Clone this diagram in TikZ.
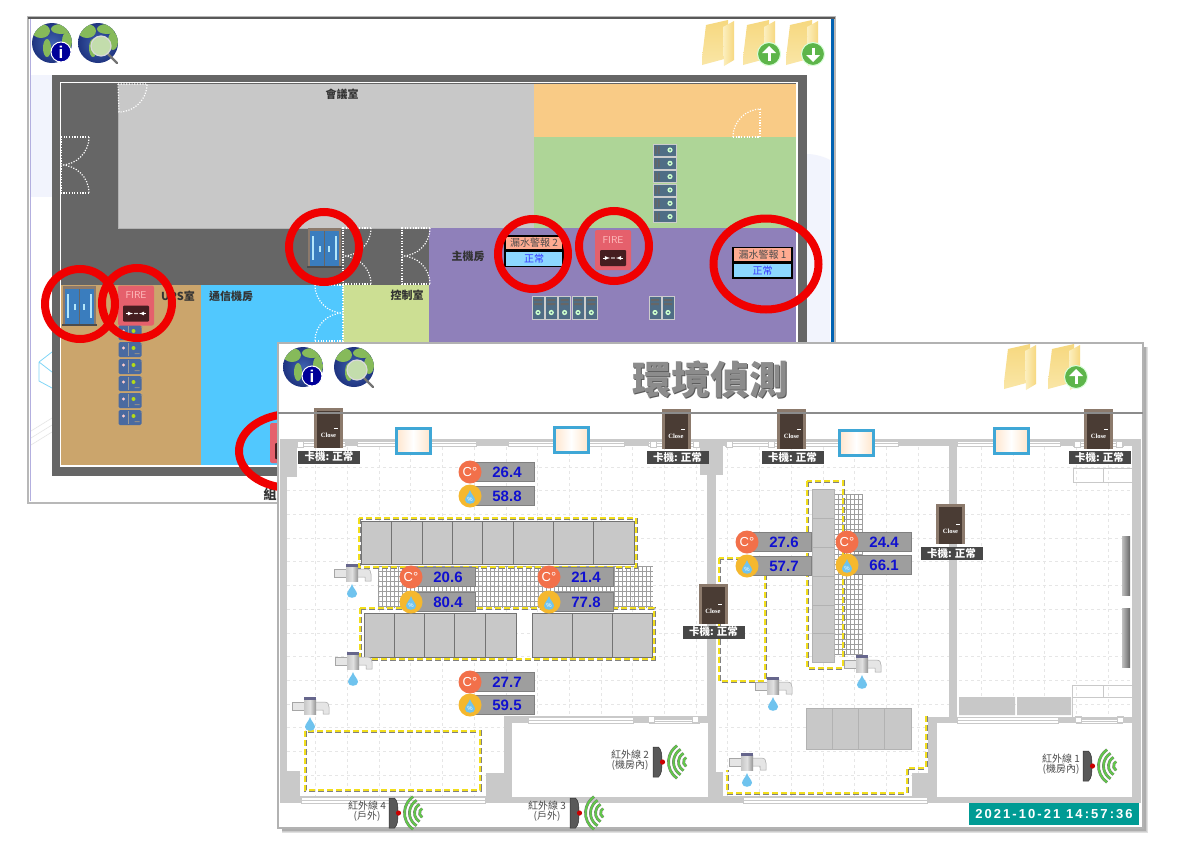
\documentclass[tikz,border=0pt]{standalone}
\usepackage{fontspec}
\usepackage{xcolor}
\usetikzlibrary{arrows,calc}
\setmainfont{Liberation Sans}
\newfontfamily\cjk{Noto Sans CJK TC}
\newfontfamily\stampfont[LetterSpace=16]{Liberation Sans}
\newfontfamily\closefont{Liberation Serif}
\newcommand{\fsz}[1]{\fontsize{#1}{#1}\selectfont}

\definecolor{plangray}{HTML}{666666}
\definecolor{roomgray}{HTML}{C8C8C8}
\definecolor{roomorange}{HTML}{F9CB86}
\definecolor{roomgreen}{HTML}{AED597}
\definecolor{roompurple}{HTML}{8F80BA}
\definecolor{roomlime}{HTML}{CCDF93}
\definecolor{roomblue}{HTML}{51C8FE}
\definecolor{roomtan}{HTML}{CBA56C}
\definecolor{markred}{HTML}{F00000}
\definecolor{rackblue}{HTML}{4F6D85}
\definecolor{upsblue}{HTML}{4A6AA0}
\definecolor{firered}{HTML}{E5606C}
\definecolor{doorblue}{HTML}{3A7DBE}
\definecolor{doorbrown}{HTML}{4A3C34}
\definecolor{doorframe}{HTML}{8C7A6C}
\definecolor{wallgray}{HTML}{C9C9C9}
\definecolor{gridgray}{HTML}{E6E6E6}
\definecolor{zoneyellow}{HTML}{F2DE1C}
\definecolor{valueblue}{HTML}{1010D0}
\definecolor{dropblue}{HTML}{6FC3EE}
\definecolor{teal}{HTML}{009B94}
\definecolor{wavegreen}{HTML}{62C74A}
\definecolor{folderdark}{HTML}{F6D87F}
\definecolor{folderlight}{HTML}{FCEFC0}
\definecolor{badgegreen}{HTML}{5DB54A}
\definecolor{fadeblue}{HTML}{F2F4FD}
\definecolor{landgreen}{HTML}{86BA5A}
\definecolor{seablue}{HTML}{3F62B0}
\definecolor{seadark}{HTML}{1F3480}
\definecolor{leaksalmon}{HTML}{FFAB91}
\definecolor{leaksky}{HTML}{8CD7FF}
\definecolor{panelblue}{HTML}{3FA7D6}
\definecolor{tempred}{HTML}{F2704A}
\definecolor{humyellow}{HTML}{F5B82E}

\tikzset{
	>=latex,
	planlabel/.style={font=\cjk\bfseries\fsz{11},text=black!80,inner sep=0pt},
	doorarc/.style={white,dash pattern=on 1.2pt off 1.5pt,line width=1.2pt},
	markring/.style={draw=markred,line width=8pt},
	cardlabel/.style={fill=black!72,text=white,font=\cjk\bfseries\fsz{10.5},minimum width=62pt,minimum height=13pt,inner sep=0pt},
	irlabel/.style={font=\cjk\fsz{10},text=black!70,align=center,inner sep=0pt},
	leaktop/.style={fill=leaksalmon,draw=black,line width=1.4pt,font=\cjk\fsz{10},text=black!70,minimum width=58pt,minimum height=14pt,inner sep=0pt},
	leakstate/.style={fill=leaksky,draw=black,line width=1.4pt,font=\cjk\fsz{10},text=blue!80,minimum width=58pt,minimum height=15pt,inner sep=0pt},
	rackbox/.style={fill=roomgray,draw=black!55,line width=.5pt},
	flatbox/.style={fill=roomgray,draw=black!30,line width=.5pt},
	wall/.style={fill=wallgray,draw=none},
	strip/.style={fill=white,draw=wallgray,line width=.6pt},
	yellowzone/.style={draw=zoneyellow,line width=2.2pt,dash pattern=on 6pt off 3pt,
			preaction={draw=black!50,line width=3pt,dash pattern=on 6pt off 3pt}},
	pics/earth/.style={code={
				\shade[inner color=seablue,outer color=seadark] (0,0) circle (20);
				\begin{scope}
					\clip (0,0) circle (20);
					\fill[landgreen] (-11,-12) ellipse (9 and 7);
					\fill[landgreen] (9,-14) ellipse (10 and 5);
					\fill[landgreen] (-5,5) ellipse (4 and 9);
					\fill[landgreen] (15,-2) ellipse (5 and 9);
				\end{scope}
			}},
	pics/earthinfo/.style={code={
				\pic {earth};
				\filldraw[fill=blue!60!black,draw=white,line width=1pt] (9,9) circle (10);
				\node[text=white,font=\bfseries\fsz{17},inner sep=0pt] (-i) at (9,9) {i};
			}},
	pics/earthsearch/.style={code={
				\pic {earth};
				\draw[black!55,line width=2.4pt,line cap=round] (10,11) -- (19,20);
				\filldraw[fill=landgreen!50!white,draw=white!85!black,line width=1.2pt] (3,3) circle (10);
			}},
	pics/folder/.style={code={
				\shade[top color=folderdark,bottom color=folderlight!60!folderdark] (4,5) -- (26,0) -- (26,38) -- (0,45) -- (0,38) -- cycle;
				\shade[left color=folderlight,right color=folderdark] (21,7) -- (32,1) -- (32,40) -- (22,46) -- cycle;
			}},
	pics/updownbadge/.style={code={
				\filldraw[fill=badgegreen,draw=white!85!green,line width=1pt] (0,0) circle (11.5);
				\draw[white,line width=3pt] (0,#1*6.5) -- (0,-#1*2);
				\fill[white] (0,-#1*8) -- (7,-#1*1) -- (-7,-#1*1) -- cycle;
			}},
	pics/rackflat/.style={code={
				\filldraw[fill=rackblue,draw=black!20,line width=.4pt] (0,0) rectangle (23,12);
				\fill[black!60] (2,2) rectangle (3.5,10) (5,2) rectangle (6.5,10);
				\fill[green!20!white] (17,6) circle (2.6);
				\fill[rackblue] (17,6) circle (1);
			}},
	pics/racktall/.style={code={
				\filldraw[fill=rackblue,draw=black!20,line width=.4pt] (0,0) rectangle (12,23);
				\fill[black!60] (2,3) rectangle (10,5) (2,7) rectangle (10,9);
				\fill[green!20!white] (6,16.5) circle (2.6);
				\fill[rackblue] (6,16.5) circle (1);
			}},
	pics/upsbox/.style={code={
				\fill[upsblue,rounded corners=1.5pt] (0,0) rectangle (23,15);
				\draw[black!40,line width=.4pt] (10,1) -- (10,14);
				\fill[pink!80!white] (5,6) circle (1.6);
				\fill[yellow!70!green] (15,6) circle (2);
				\fill[black!45] (16,11) rectangle (21,12) (23,2) circle (1);
			}},
	pics/firebox/.style={code={
				\fill[firered,rounded corners=2pt] (0,0) rectangle (36,40);
				\node[text=red!25!white,font=\fsz{10}\sffamily,inner sep=0pt] (-t) at (18,10) {FIRE};
				\fill[black!70!firered,rounded corners=1pt] (5,20) rectangle (31,36);
				\draw[white,->,line width=.8pt] (8,28) -- (15,28);
				\draw[white,->,line width=.8pt] (28,28) -- (21,28);
				\fill[white] (17,28) circle (.8) (19,28) circle (.8);
			}},
	pics/bluedoor/.style={code={
				\fill[doorframe] (1,0) rectangle (34,38);
				\fill[doorblue] (3,3) rectangle (32,38);
				\draw[black!60,line width=.8pt] (17.5,3) -- (17.5,38);
				\draw[black!70,line width=1.2pt] (0,39) -- (35,39);
				\draw[cyan!30!white,line width=1.2pt] (6,8) -- (6,32) (29,8) -- (29,32);
				\draw[cyan!30!white,line width=1.5pt] (13,18) -- (13,24) (22,18) -- (22,24);
			}},
	pics/carddoor/.style={code={
				\fill[doorframe] (-14.5,0) rectangle (14.5,40);
				\fill[doorbrown] (-11.5,3) rectangle (11.5,40);
				\fill[white] (5,20) rectangle (9,21);
				\node[text=white,font=\closefont\bfseries\fsz{6.5},inner sep=0pt] (-c) at (0,27) {Close};
			}},
	pics/glasspane/.style={code={
				\shade[left color=orange!20!white,right color=orange!20!white,middle color=white] (0,0) rectangle (34,25);
				\draw[panelblue,line width=3pt] (0,0) rectangle (34,25);
			}},
	pics/drop/.style={code={
				\fill[dropblue] (0,-7) .. controls (1,-3) and (5,0) .. (5,3) .. controls (5,8) and (-5,8) .. (-5,3) .. controls (-5,0) and (-1,-3) .. (0,-7);
			}},
	pics/faucet/.style={code={
				\filldraw[fill=black!10,draw=black!35,line width=.5pt] (-18,-3) rectangle (-5,5);
				\filldraw[fill=black!10,draw=black!35,line width=.5pt] (5,-3) -- (14,-3) .. controls (18,-3) and (19,-1) .. (19,2) -- (19,9) -- (13,9) -- (13,5) -- (5,5) -- cycle;
				\shade[left color=black!22,right color=black!42,middle color=black!12] (-6,-6) rectangle (6,9);
				\fill[blue!25!black!60] (-6,-8) rectangle (6,-5);
				\pic at (0,19) {drop};
			}},
	pics/tempgauge/.style={code={
				\filldraw[fill=black!38,draw=black!50,line width=.8pt] (0,-9.5) rectangle (64,9.5);
				\fill[tempred] (0,0) circle (11.5);
				\node[text=valueblue,font=\bfseries\fsz{15},inner sep=0pt] (-v) at (37,0) {#1};
				\node[text=white,font=\fsz{13},inner sep=0pt] (-u) at (0,0) {C°};
			}},
	pics/humgauge/.style={code={
				\filldraw[fill=black!38,draw=black!50,line width=.8pt] (0,-9.5) rectangle (64,9.5);
				\fill[humyellow] (0,0) circle (11.5);
				\pic at (0,1) {drop};
				\node[text=valueblue,font=\bfseries\fsz{15},inner sep=0pt] (-v) at (37,0) {#1};
				\node[text=white,font=\fsz{6},inner sep=0pt] (-u) at (0,3) {\%};
			}},
	pics/irsensor/.style={code={
				\filldraw[fill=black!65,draw=black!80,line width=.5pt] (-4.5,-15) -- (1,-15) .. controls (4,-12) and (4.5,-8) .. (4.5,0) .. controls (4.5,8) and (4,12) .. (1,15) -- (-4.5,15) -- cycle;
				\fill[red!80!black] (5,0) circle (2.6);
				\foreach \rad/\ang in {20/55,15/58,10/60,5/62}{
						\draw[black!55,line width=2.8pt] ($(31,0)+(180-\ang:\rad)$) arc[start angle=180-\ang,end angle=180+\ang,radius=\rad];
						\draw[wavegreen,line width=2pt] ($(31,0)+(180-\ang:\rad)$) arc[start angle=180-\ang,end angle=180+\ang,radius=\rad];
					}
			}}
}

\begin{document}
\begin{tikzpicture}[x=1pt,y=-1pt,font=\small]
	\useasboundingbox (0,0) rectangle (1203,849);
	\fill[white] (0,0) rectangle (1203,849);

	% Back window
	\filldraw[fill=white,draw=black!28,line width=2pt] (28,17) rectangle (835,503);
	\draw[black!65,line width=1.5pt] (28,18) -- (835,18);
	\draw[cyan!15!blue!30,line width=.8pt] (30,19) -- (30,501);
	\draw[blue!45!cyan!70!black,line width=3pt] (832,19) -- (832,343);
	\fill[fadeblue] (31,75) rectangle (52,197);
	\fill[fadeblue] (807,154) .. controls (815,154) and (825,157) .. (830,160) -- (830,343) -- (807,343) -- cycle;
	\draw[cyan!50,line width=.8pt] (39,362) -- (52,352) (39,362) -- (52,372) (39,362) -- (39,381) -- (52,388);
	\draw[black!10,line width=.6pt] (31,438) -- (52,425) (31,445) -- (52,432) (31,431) -- (52,418);
	\pic (backInfo) at (52,43) {earthinfo};
	\pic (backSearch) at (98,43) {earthsearch};
	\pic (backFolderA) at (702,20) {folder};
	\pic (backFolderB) at (743,20) {folder};
	\pic (backFolderC) at (786,20) {folder};
	\pic (backUp) at (769,54) {updownbadge=1};
	\pic (backDown) at (813,54) {updownbadge=-1};

	% Floor plan and rooms
	\fill[plangray] (52,75) rectangle (807,476);
	\draw[white,line width=1.2pt] (60.5,82.5) rectangle (797,466);
	\fill[roomgray] (118,84) rectangle (534,228);
	\fill[roomorange] (534,84) rectangle (796,137);
	\fill[roomgreen] (534,137) rectangle (796,228);
	\fill[roompurple] (429,228) rectangle (796,465);
	\fill[roomlime] (343,284.5) rectangle (429,465);
	\fill[roomblue] (201,284.5) rectangle (343,465);
	\fill[roomtan] (61,284.5) rectangle (201,465);
	\draw[white!50!plangray,line width=.6pt] (118,84) -- (118,228) -- (429,228);

	% Door swings
	\draw[doorarc] (118,84) -- (147,84) arc[start angle=0,end angle=90,radius=28] -- cycle;
	\foreach \xd in {61,343,402}{
			\pgfmathsetmacro{\ytop}{\xd==61?137:228}
			\draw[doorarc] (\xd+28,\ytop) -- (\xd,\ytop) -- (\xd,\ytop+56) -- (\xd+28,\ytop+56);
			\draw[doorarc] (\xd+28,\ytop) arc[start angle=0,end angle=90,radius=28] arc[start angle=-90,end angle=0,radius=28];
		}
	\draw[doorarc] (315,285) -- (343,285) -- (343,341) -- (315,341);
	\draw[doorarc] (315,285) arc[start angle=180,end angle=90,radius=28] arc[start angle=-90,end angle=-180,radius=28];
	\draw[doorarc] (733,137) -- (760,137) -- (760,109);
	\draw[doorarc] (733,137) arc[start angle=180,end angle=270,radius=28];

	% Room names
	\node[planlabel] (meetRoom) at (342,94) {會議室};
	\node[planlabel] (controlRoom) at (407,295) {控制室};
	\node[planlabel] (commRoom) at (231,296) {通信機房};
	\node[planlabel] (upsRoom) at (178,296) {UPS室};
	\node[planlabel] (mainRoom) at (468,256) {主機房};
	\node[planlabel,font=\cjk\bfseries\fsz{13}] (lowerRoom) at (270,494) {組};

	% Equipment in the plan
	\foreach \yr in {144,157.3,170.6,184,197.3,210.6}{
			\pic at (653,\yr) {rackflat};
		}
	\foreach \xr in {532,545.3,558.6,572,585.3,649,662}{
			\pic at (\xr,296) {racktall};
		}
	\foreach \yr in {325,342,359,376,393,410}{
			\pic at (118.5,\yr) {upsbox};
		}
	\pic (doorMid) at (307,228) {bluedoor};
	\pic (doorLeft) at (62,286) {bluedoor};
	\pic (fireLeft) at (118,285.5) {firebox};
	\pic (fireRight) at (595,230) {firebox};
	\pic (fireLow) at (270,423) {firebox};
	\node[leaktop] (leakTwoName) at (534,243) {漏水警報 2};
	\node[leakstate,below=0pt] (leakTwoState) at (leakTwoName.south) {正常};
	\node[leaktop,minimum width=59pt] (leakOneName) at (762.5,254.5) {漏水警報 1};
	\node[leakstate,minimum width=59pt,below=0pt] (leakOneState) at (leakOneName.south) {正常};

	% Red rings
	\foreach \xm/\ym in {324/247,80/304,137/303,533/254,614/246}{
			\draw[markring] (\xm,\ym) circle (35);
		}
	\draw[markring] (766,264) ellipse (52.5 and 45.5);
	\draw[markring] (291,451) ellipse (52 and 37);

	% Front window
	\foreach \sd/\sh in {5/12,4/20,3/32}{
			\fill[black!\sh] (282,347) rectangle (1143+\sd,828+\sd);
		}
	\filldraw[fill=white,draw=black!30,line width=2pt] (278,343) rectangle (1143,828);

	% Floor grid
	\foreach \k in {0,...,25}{
			\draw[gridgray,dashed,line width=.8pt] (315.7+31.7*\k,447) -- (315.7+31.7*\k,797);
		}
	\foreach \k in {0,...,14}{
			\draw[gridgray,dashed,line width=.8pt] (287,467+23.7*\k) -- (1132,467+23.7*\k);
		}

	% Walls
	\fill[wall] (280,439) rectangle (1141,446);
	\fill[wall] (280,439) rectangle (297,477);
	\fill[wall] (280,439) rectangle (287,803);
	\fill[wall] (280,771) rectangle (300,803);
	\fill[wall] (280,796) rectangle (1141,803);
	\fill[wall] (486,773) rectangle (512,803);
	\fill[wall] (504,716) rectangle (716,723);
	\fill[wall] (504,716) rectangle (512,773);
	\fill[wall] (707,439) rectangle (716,803);
	\fill[wall] (700,439) rectangle (723,475);
	\fill[wall] (707,772) rectangle (723,803);
	\fill[wall] (949,441) rectangle (957,717);
	\fill[wall] (928,717) rectangle (1141,723);
	\fill[wall] (928,717) rectangle (937,773);
	\fill[wall] (912,773) rectangle (937,803);
	\fill[wall] (1132,439) rectangle (1141,803);
	\fill[wall] (1123,439) rectangle (1141,446);
	\fill[white] (512,723) rectangle (708,797);
	\fill[white] (937,723) rectangle (1132,797);
	\fill[white] (279,803.5) rectangle (1142,827);
	\fill[white] (279,414) rectangle (1142,439);

	% Glass strips in the walls
	\foreach \xa/\xb/\ya/\yb in {297/345/441/446,357/476/441/446,508/624/441/446,648/700/441/446,725/898/441/446,957/1060/441/446,1073/1123/441/446,301/485/797/803,743/927/797/803,528/633/717/723,649/699/719/723,957/1058/717/723,1076/1122/719/723}{
			\filldraw[strip] (\xa,\ya) rectangle (\xb,\yb);
			\draw[wallgray,line width=.4pt] (\xa,{(\ya+\yb)/2}) -- (\xb,{(\ya+\yb)/2});
		}
	\foreach \xs/\ys in {300/444,653/444,696/444,729/444,771/444,1077/444,1119/444,651/719,695/719,1078/719,1120/719}{
			\filldraw[strip] (\xs-3,\ys-3) rectangle (\xs+3,\ys+3);
		}
	\draw[wallgray,line width=.6pt] (1073,468) rectangle (1132,482) (1103,468) -- (1103,482);
	\draw[wallgray,line width=.6pt] (1072,685) rectangle (1132,717) (1072,697) -- (1132,697) (1103,685) -- (1103,697);

	% Cable mesh
	\foreach \k in {0,...,68}{
			\draw[black!38,line width=.35pt] (378+4*\k,566) -- (378+4*\k,608);
		}
	\foreach \k in {0,...,8}{
			\draw[black!38,line width=.35pt] (378,566+5*\k) -- (653,566+5*\k);
		}
	\foreach \k in {0,...,7}{
			\draw[black!38,line width=.35pt] (834+4*\k,494) -- (834+4*\k,655);
		}
	\foreach \k in {0,...,32}{
			\draw[black!38,line width=.35pt] (834,494+5*\k) -- (862,494+5*\k);
		}

	% Rack rows
	\foreach \xa/\xb in {361/391,391/422,422/452,452/482,482/513,513/553,553/593,593/634}{
			\filldraw[rackbox] (\xa,521) rectangle (\xb,564);
		}
	\foreach \xa/\xb in {364/394,394/424,424/454,454/485,485/516,532/572,572/612,612/652}{
			\filldraw[rackbox] (\xa,613) rectangle (\xb,657);
		}
	\foreach \ya/\yb in {489/518,518/547,547/576,576/605,605/633,633/662}{
			\filldraw[flatbox] (812,\ya) rectangle (834,\yb);
		}
	\foreach \xa/\xb in {806/832,832/858,858/884,884/911}{
			\filldraw[flatbox] (\xa,708) rectangle (\xb,749);
		}
	\fill[roomgray] (959,697) rectangle (1015,715) (1017,697) rectangle (1071,715);
	\shade[left color=black!25,right color=black!60] (1122,536) rectangle (1130,595);
	\shade[left color=black!25,right color=black!60] (1122,608) rectangle (1130,667);

	% Monitored zones
	\draw[yellowzone] (359,518) rectangle (636,567);
	\draw[yellowzone] (360,608) rectangle (654,659);
	\draw[yellowzone] (305,731) rectangle (480,790);
	\draw[yellowzone] (807,481) rectangle (843,668);
	\draw[yellowzone] (719,558) rectangle (765,681);
	\draw[yellowzone] (926,716) -- (926,768) -- (907,768) -- (907,793) -- (727,793) -- (727,770);

	% Window panes
	\pic (paneA) at (396,428) {glasspane};
	\pic (paneB) at (554,427) {glasspane};
	\pic (paneC) at (839,430) {glasspane};
	\pic (paneD) at (994,428) {glasspane};

	% Card doors
	\foreach \nm/\xc/\yc in {A/328.5/408,B/676/409,C/791.5/409,D/1098.5/409,E/950.5/504,F/713/584}{
			\pic (card\nm) at (\xc,\yc) {carddoor};
		}
	\node[cardlabel] (cardTextA) at (329,457) {卡機: 正常};
	\node[cardlabel] (cardTextB) at (677.5,457.5) {卡機: 正常};
	\node[cardlabel] (cardTextC) at (792.5,457.5) {卡機: 正常};
	\node[cardlabel] (cardTextD) at (1099.5,457.5) {卡機: 正常};
	\node[cardlabel] (cardTextE) at (951.5,553.5) {卡機: 正常};
	\node[cardlabel] (cardTextF) at (713.5,632) {卡機: 正常};

	% Water taps
	\foreach \xt/\yt in {352/572,353/660,310/705,773/685,862/663,747/761}{
			\pic at (\xt,\yt) {faucet};
		}

	% Temperature and humidity readings
	\foreach \nm/\xg/\yg/\yh/\tv/\hv in {A/470/472/496/26.4/58.8,B/411/577/602/20.6/80.4,C/549/577/602/21.4/77.8,D/470/682/705/27.7/59.5,E/747/542/566/27.6/57.7,F/847/542/565/24.4/66.1}{
			\pic (temp\nm) at (\xg,\yg) {tempgauge=\tv};
			\pic (hum\nm) at (\xg,\yh) {humgauge=\hv};
		}

	% Infrared sensors
	\pic (irOne) at (1087.5,766) {irsensor};
	\pic (irTwo) at (657.5,762) {irsensor};
	\pic (irThree) at (574.5,813) {irsensor};
	\pic (irFour) at (393.5,813) {irsensor};
	\node[irlabel] (irTextOne) at (1061,764.5) {紅外線 1\\(機房內)};
	\node[irlabel] (irTextTwo) at (630,760.5) {紅外線 2\\(機房內)};
	\node[irlabel] (irTextThree) at (547,811) {紅外線 3\\(戶外)};
	\node[irlabel] (irTextFour) at (367,811) {紅外線 4\\(戶外)};

	% Header of the front window
	\draw[black!45,line width=1.5pt] (278,413) -- (1143,413);
	\pic (frontInfo) at (303,367) {earthinfo};
	\pic (frontSearch) at (354,367) {earthsearch};
	\pic (frontFolderA) at (1004,344) {folder};
	\pic (frontFolderB) at (1048,344) {folder};
	\pic (frontUp) at (1076,377) {updownbadge=1};
	\node[text=black!65,font=\cjk\bfseries\fsz{39},inner sep=0pt] (titleShade) at (711.5,381) {環境偵測};
	\node[text=black!45,font=\cjk\bfseries\fsz{39},inner sep=0pt] (title) at (710.5,380) {環境偵測};

	% Time stamp
	\node[fill=teal,text=white,font=\stampfont\bfseries\fsz{13},minimum width=170pt,minimum height=22pt,inner sep=0pt] (stamp) at (1054,814) {2021-10-21 14:57:36};
\end{tikzpicture}
\end{document}
